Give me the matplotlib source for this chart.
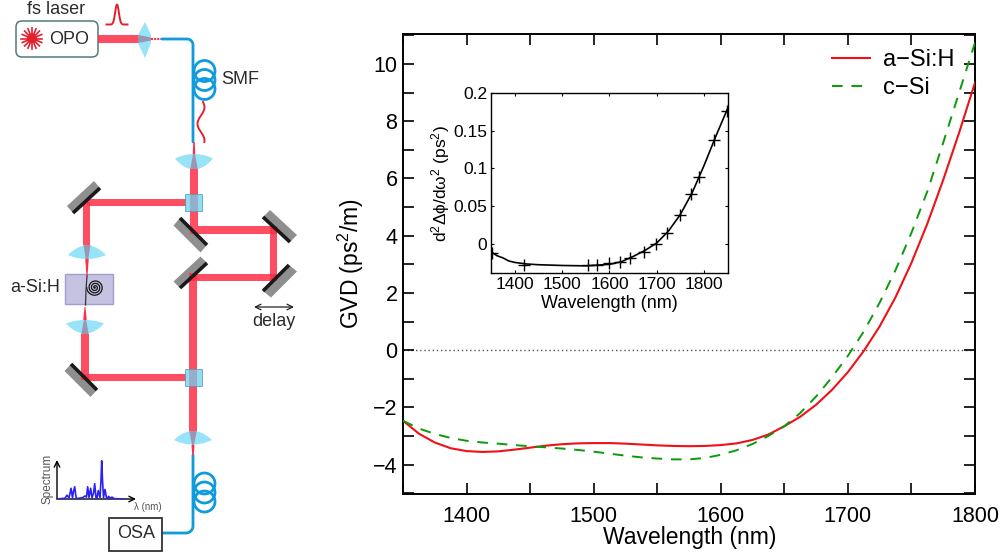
import numpy as np
import matplotlib
matplotlib.use("Agg")
import matplotlib.pyplot as plt
from matplotlib.patches import Circle, FancyBboxPatch, Polygon, Rectangle
from matplotlib.ticker import MultipleLocator, FixedLocator

plt.rcParams['font.family'] = ['Liberation Sans', 'DejaVu Sans']
plt.rcParams['mathtext.fontset'] = 'custom'
plt.rcParams['mathtext.rm'] = 'Liberation Sans'
plt.rcParams['mathtext.it'] = 'Liberation Sans'
plt.rcParams['mathtext.default'] = 'regular'

W, H = 1003, 557

# main plot data
wavelength_asi = [1350, 1362.5, 1375, 1387.5, 1400, 1412.5, 1425, 1437.5, 1450, 1462.5, 1475, 1487.5, 1500,
                  1512.5, 1525, 1537.5, 1550, 1562.5, 1575, 1587.5, 1600, 1612.5, 1625, 1637.5, 1650, 1662.5,
                  1675, 1687.5, 1700, 1712.5, 1725, 1737.5, 1750, 1762.5, 1775, 1787.5, 1800]
gvd_asi = [-2.47, -2.92, -3.23, -3.43, -3.53, -3.56, -3.54, -3.48, -3.41, -3.34, -3.29, -3.26, -3.25, -3.25,
           -3.27, -3.30, -3.33, -3.35, -3.36, -3.35, -3.32, -3.26, -3.14, -2.95, -2.66, -2.33, -1.91, -1.39,
           -0.77, -0.03, 0.83, 1.85, 3.05, 4.42, 5.95, 7.60, 9.35]
wavelength_csi = list(wavelength_asi)
gvd_csi = [-2.47, -2.74, -2.93, -3.07, -3.17, -3.23, -3.27, -3.32, -3.36, -3.40, -3.44, -3.49, -3.55, -3.62,
           -3.69, -3.75, -3.79, -3.82, -3.82, -3.77, -3.66, -3.50, -3.28, -3.00, -2.66, -2.20, -1.62, -0.95,
           -0.20, 0.65, 1.66, 2.80, 4.10, 5.55, 7.25, 9.00, 10.75]

# inset data
inset_line_x = [1350, 1362, 1375, 1387, 1400, 1425, 1450, 1500, 1550, 1600, 1625, 1650, 1675, 1700, 1725,
                1750, 1775, 1800, 1825, 1850]
inset_line_y = [-0.011, -0.016, -0.019, -0.023, -0.025, -0.027, -0.028, -0.029, -0.0295, -0.0275, -0.024,
                -0.017, -0.009, 0.001, 0.017, 0.039, 0.068, 0.104, 0.143, 0.180]
inset_points_x = [1352, 1419, 1554, 1574, 1600, 1622, 1643, 1672, 1698, 1722, 1749, 1773, 1790, 1820, 1848]
inset_points_y = [-0.013, -0.028, -0.029, -0.029, -0.026, -0.025, -0.019, -0.011, -0.0005, 0.014, 0.038,
                  0.066, 0.089, 0.138, 0.176]

# small spectrum in the schematic (arbitrary units)
spectrum_x = [0, 8, 10, 12, 13, 14, 15.5, 16.5, 17.7, 19, 20, 22, 26, 28, 29.5, 30.7, 32, 33.7, 35, 36.5,
              37.7, 39, 40, 41.3, 43, 44, 44.7, 45.5, 46.5, 48, 49.5, 50.5, 51.7, 53, 55, 57, 68]
spectrum_y = [0, 0.02, 0.1, 0.03, 0.15, 0.28, 0.03, 0.2, 0.32, 0.05, 0.01, 0.02, 0.04, 0.08, 0.05, 0.32,
              0.04, 0.28, 0.03, 0.15, 0.40, 0.03, 0.02, 0.22, 0.03, 0.5, 1.0, 0.5, 0.03, 0.25, 0.03, 0.02,
              0.07, 0.02, 0.05, 0.01, 0]

RED = '#e3212d'
BEAM = '#ff2f45'
FIBER = '#109bdc'
LENS = '#97e3f8'
FUNNEL = '#9a96b4'
TEXT = '#2b2b2b'


def px_axes(left, top, right, bottom):
    return [left / W, 1 - bottom / H, (right - left) / W, (bottom - top) / H]


def beam_h(ax, x0, x1, y, w):
    ax.add_patch(Rectangle((x0, y - w / 2), x1 - x0, w, fc=BEAM, ec='none', alpha=0.85, zorder=3))


def beam_v(ax, x, y0, y1, w):
    ax.add_patch(Rectangle((x - w / 2, y0), w, y1 - y0, fc=BEAM, ec='none', alpha=0.85, zorder=3))


def lens(ax, x, y, half, up, down):
    # horizontal lens with pointed tips at (x-half, y) and (x+half, y)
    t = np.linspace(-1, 1, 40)
    top = np.column_stack([x + half * t, y - up * (1 - t ** 2)])
    bot = np.column_stack([x + half * t[::-1], y + down * (1 - t[::-1] ** 2)])
    ax.add_patch(Polygon(np.vstack([top, bot]), fc=LENS, ec='none', zorder=2))


def taper(ax, x, y0, y1, w0, w1, color=BEAM):
    pts = [(x - w0 / 2, y0), (x + w0 / 2, y0), (x + w1 / 2, y1), (x - w1 / 2, y1)]
    ax.add_patch(Polygon(pts, fc=color, ec='none', zorder=4))


def mirror(ax, p0, p1, back):
    # p0-p1 is the black front face, back is the offset to the grey body
    a, b = np.array(p0, float), np.array(p1, float)
    d = np.array(back, float)
    ax.add_patch(Polygon([a, b, b + d, a + d], fc='#8f8f8f', ec='none', zorder=2))
    ax.plot([a[0], b[0]], [a[1], b[1]], color='#1a1a1a', lw=2.6, solid_capstyle='butt', zorder=5)


def splitter(ax, x, y):
    ax.add_patch(Rectangle((x - 8.5, y - 8.5), 17, 17, fc='#6fd0ee', ec='#4c9cb8', lw=0.7, alpha=0.75, zorder=6))


def coil(ax, x, ys):
    for yc in ys:
        ax.add_patch(Circle((x, yc), 10.5, fc='none', ec=FIBER, lw=2.0, zorder=3))


fig = plt.figure(figsize=(W / 100, H / 100), dpi=100)

# ---- schematic on the left, drawn in pixel coordinates ----
sch = fig.add_axes([0, 0, 1, 1])
sch.set_xlim(0, W)
sch.set_ylim(H, 0)
sch.axis('off')

sch.add_patch(FancyBboxPatch((19, 24), 76, 30, boxstyle='round,pad=3,rounding_size=6', fc='white',
                             ec='#557a7a', lw=1.1))
for ang in np.linspace(0, 2 * np.pi, 16, endpoint=False):
    sch.plot([32, 32 + 10.5 * np.cos(ang)], [38.5, 38.5 + 10.5 * np.sin(ang)], color=RED, lw=1.2)
sch.add_patch(Circle((32, 38.5), 5, fc=RED, ec='none', zorder=3))
sch.text(27, 10, 'fs laser', fontsize=13, color=TEXT, ha='left', va='center')
sch.text(49, 39.5, 'OPO', fontsize=13, color=TEXT, ha='left', va='center')
sch.text(221, 80, 'SMF', fontsize=13, color=TEXT, ha='left', va='center')
sch.text(10, 287, 'a-Si:H', fontsize=13, color=TEXT, ha='left', va='center')
sch.text(274, 322, 'delay', fontsize=13, color=TEXT, ha='center', va='center')

# input pulse and chirped pulse
t = np.linspace(-10.5, 10.5, 60)
sch.plot(117 + t, 24.5 - 20 * np.exp(-(t / 2.6) ** 2), color=RED, lw=1.4)
t = np.linspace(0, 1, 40)
sch.plot(201 + 3.5 * np.sin(t * 2 * np.pi * 1.2 + 0.6), 102 + 40 * t, color=RED, lw=1.4)

# beams
beam_h(sch, 98, 138, 39, 7.5)
beam_v(sch, 194, 169, 226, 7.5)
beam_h(sch, 190, 277, 230, 7.5)
beam_v(sch, 273.5, 226, 280, 7)
beam_h(sch, 189, 277, 277, 7)
beam_v(sch, 193, 273, 431, 7.5)
beam_h(sch, 87, 186, 202.5, 6.5)
beam_v(sch, 87, 202, 245, 7)
beam_v(sch, 85, 334, 380, 7.5)
beam_h(sch, 85, 186, 377, 7)

# lenses and the converging light inside them
sch.add_patch(Polygon([(138, 35), (145, 22), (151, 35), (151, 43), (145, 58), (138, 43)], fc=LENS, ec='none',
                      zorder=2))
sch.add_patch(Polygon([(138, 35), (151, 37.5), (151, 40.5), (138, 43)], fc=FUNNEL, ec='none', zorder=4))
sch.plot([151, 162], [39, 39], color=BEAM, lw=1.5, ls=(0, (1, 0.5)), zorder=3)
lens(sch, 194, 158.5, 19, 4.5, 11)
taper(sch, 194, 154, 169, 2, 7.5, FUNNEL)
taper(sch, 194, 142, 154, 1.5, 2.5)
lens(sch, 87, 255, 19, 9.5, 4)
taper(sch, 87, 245, 259, 7, 2.5, FUNNEL)
taper(sch, 87, 259, 276, 3.5, 1)
lens(sch, 85, 323.5, 19, 3.5, 10)
taper(sch, 85, 320, 334, 2, 7.5, FUNNEL)
taper(sch, 85, 307, 320, 1, 3.5)
lens(sch, 193, 440, 19, 9, 4.5)
taper(sch, 193, 431, 445, 7.5, 2, FUNNEL)
taper(sch, 193, 445, 455, 3, 1.5)

# fibers
fiber_kw = dict(color=FIBER, lw=2.0, zorder=3, solid_capstyle='round', solid_joinstyle='round')
ang = np.linspace(-np.pi / 2, 0, 12)
sch.plot(np.r_[162, 187 + 6 * np.cos(ang), 193], np.r_[39, 45 + 6 * np.sin(ang), 142], **fiber_kw)
coil(sch, 204.5, [71, 80, 89])
ang = np.linspace(0, np.pi / 2, 12)
sch.plot(np.r_[193, 186 + 7 * np.cos(ang), 163], np.r_[455, 526 + 7 * np.sin(ang), 533], **fiber_kw)
coil(sch, 204.5, [483.5, 492.5, 501.5])

# mirrors and splitters
mirror(sch, (73, 213), (100, 188), (-6, -7))
mirror(sch, (180, 218), (207, 245), (-6.5, 7.5))
mirror(sch, (263, 217), (290, 242), (7, -7))
mirror(sch, (263, 291), (289, 265), (8, 6.5))
mirror(sch, (180, 288), (207, 263), (-6.5, -6.5))
mirror(sch, (71, 364), (97, 390), (-6.5, 7))
splitter(sch, 193.5, 202.5)
splitter(sch, 193.5, 377)

# sample chip with the spiral waveguide
sch.add_patch(Rectangle((65.5, 274), 48, 30, fc='#c6c3e2', ec='#a19dcc', lw=1, zorder=2))
theta = np.linspace(0, 3.5 * 2 * np.pi, 300)
r = 8.3 * theta / theta[-1]
sch.plot(95 + r * np.cos(theta), 287.5 + r * np.sin(theta), color='#151515', lw=0.9, zorder=5)
sch.plot([87, 86, 85.5], [276, 290, 305], color='#333333', lw=0.9, zorder=5)

# delay arrow
sch.annotate('', xy=(254, 307), xytext=(294, 307), arrowprops=dict(arrowstyle='<->', color='#222222', lw=0.9,
                                                                  shrinkA=0, shrinkB=0))

# OSA box
sch.add_patch(Rectangle((109, 517.5), 53, 33.5, fc='white', ec='#333333', lw=1.3, zorder=4))
sch.text(136.5, 534, 'OSA', fontsize=13, color=TEXT, ha='center', va='center', zorder=5)

# little spectrum sketch
spec = fig.add_axes(px_axes(57, 460, 125, 499))
spec.plot(spectrum_x, spectrum_y, color='#2a22f0', lw=1.2)
spec.set_xlim(0, 68)
spec.set_ylim(0, 1.02)
spec.axis('off')
sch.annotate('', xy=(136, 499), xytext=(57, 499), arrowprops=dict(arrowstyle='->', color='black', lw=1,
                                                                 shrinkA=0, shrinkB=0))
sch.annotate('', xy=(57, 460), xytext=(57, 499), arrowprops=dict(arrowstyle='->', color='black', lw=1,
                                                                shrinkA=0, shrinkB=0))
sch.text(48, 479, 'Spectrum', fontsize=8.5, color='#555555', rotation=90, ha='center', va='center')
sch.text(147.5, 507, 'λ (nm)', fontsize=7, color='#555555', ha='center', va='center')

# ---- main GVD plot ----
ax = fig.add_axes(px_axes(403, 34, 975, 494))
ax.patch.set_alpha(0)
ax.plot(wavelength_asi, gvd_asi, color='#f01018', lw=1.5, label='a\u2212Si:H', zorder=3)
ax.plot(wavelength_csi, gvd_csi, color='#0a9a0a', lw=1.4, dashes=(5.5, 4.5), label='c\u2212Si', zorder=3)
ax.axhline(0, color='#555555', lw=1, ls=(0, (1, 2)), zorder=1)
ax.set_xlim(1350, 1800)
ax.set_ylim(-5.03, 11.05)
ax.xaxis.set_major_locator(MultipleLocator(100))
ax.xaxis.set_minor_locator(MultipleLocator(50))
ax.yaxis.set_major_locator(MultipleLocator(2))
ax.yaxis.set_minor_locator(MultipleLocator(1))
ax.tick_params(which='both', direction='in', top=True, right=True, length=8, width=1.2, labelsize=15.5)
ax.tick_params(axis='x', pad=9)
ax.tick_params(axis='y', pad=4)
for s in ax.spines.values():
    s.set_linewidth(1.4)
ax.set_xlabel('Wavelength (nm)', fontsize=16.5)
ax.set_ylabel('GVD (ps$^2$/m)', fontsize=16.5)
ax.xaxis.set_label_coords((690 - 403) / 572, -(526 - 494) / 460)
ax.yaxis.set_label_coords((366 - 403) / 572, 0.502)
ax.legend(frameon=False, fontsize=17, handlelength=1.6, handletextpad=0.55, labelspacing=0.25, borderaxespad=0,
          borderpad=0, loc='upper left', bbox_to_anchor=((832 - 403) / 572, (494 - 49) / 460))

# ---- inset ----
ins = fig.add_axes(px_axes(491.3, 93.3, 727.7, 273))
ins.plot(inset_line_x, inset_line_y, color='black', lw=1.2)
ins.plot(inset_points_x, inset_points_y, ls='none', marker='+', color='black', ms=9, mew=1)
ins.set_xlim(1350, 1850)
ins.set_ylim(-0.039, 0.2)
ins.xaxis.set_major_locator(MultipleLocator(100))
ins.yaxis.set_major_locator(FixedLocator([0, 0.05, 0.1, 0.15, 0.2]))
ins.set_yticklabels(['0', '0.05', '0.1', '0.15', '0.2'])
ins.tick_params(direction='in', top=True, right=True, length=2.5, width=0.8, labelsize=12.5, pad=3)
for s in ins.spines.values():
    s.set_linewidth(1)
ins.set_xlabel('Wavelength (nm)', fontsize=13, labelpad=2)
ins.set_ylabel(r'$d^2\Delta\phi/d\omega^2$ (ps$^2$)', fontsize=12.5, labelpad=1)

fig.savefig('out.png', dpi=100)
